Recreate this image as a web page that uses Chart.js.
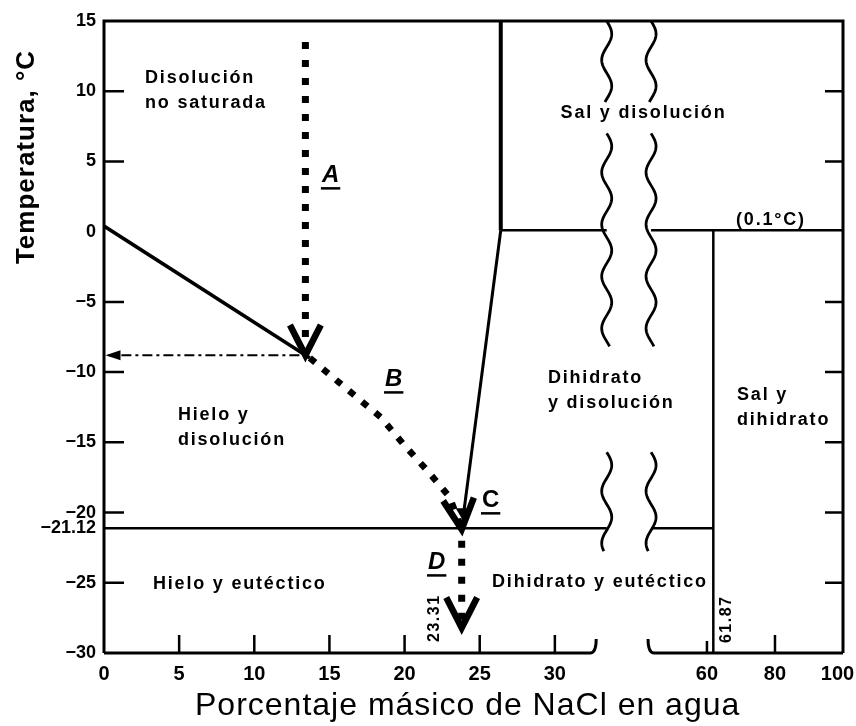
<!DOCTYPE html>
<html>
<head>
<meta charset="utf-8">
<script src="https://cdn.jsdelivr.net/npm/chart.js@4.4.1/dist/chart.umd.min.js"></script>
<style>
  html, body { margin: 0; padding: 0; background: #fff; }
  #wrap { width: 856px; height: 726px; }
</style>
</head>
<body>
<div id="wrap"><canvas id="chart"></canvas></div>
<script>
// tick labels
const xTickValues = [0, 5, 10, 15, 20, 25, 30, 60, 80, 100];
const yTickValues = [15, 10, 5, 0, -5, -10, -15, -20, -21.12, -25, -30];

// phase boundaries (x = % NaCl, y = °C)
const iceLiquidusX = [0, 13.7];
const iceLiquidusY = [0.4, -9.0];
const dihydrateLiquidusX = [23.8, 26.4];
const dihydrateLiquidusY = [-21.12, 0.1];
const saltLiquidusX = [26.4, 26.4];
const saltLiquidusY = [0.1, 15];
const eutecticT = -21.12;
const eutecticFromTo = [0, 61.87];
const peritecticT = 0.1;
const peritecticFromTo = [26.4, 100];
const saltDihydrateX = [61.87, 61.87];
const saltDihydrateY = [-30, 0.1];

// cooling paths
const pathAX = [13.4, 13.4];
const pathAY = [13.5, -8.8];
const pathBX = [13.7, 15.6, 18.4, 19.9, 21.5, 23.0, 23.8];
const pathBY = [-9.0, -10.7, -13.2, -15.1, -17.0, -18.9, -21.2];
const pathDX = [23.8, 23.8];
const pathDY = [-22.0, -28.2];
const readoutX = [13.0, 0.3];
const readoutY = [-8.8, -8.8];

// broken x axis: 0-30 linear, then 60-100 compressed
const U60 = 40.12;
const RIGHT_SCALE = 0.2263;
const toU = x => (x <= 30 ? x : U60 + (x - 60) * RIGHT_SCALE);
const U_MAX = toU(100);
const BREAK_L = 33.45;
const BREAK_R = 36.4;
const AXIS_HOOK_L = 32.75;
const AXIS_HOOK_R = 36.2;

const FONT = "'Liberation Sans', Arial, sans-serif";

const pts = (xs, ys) => xs.map((x, i) => ({ x: toU(x), y: ys[i] }));
const brokenSpan = (x0, x1, y) => [
  { x: toU(x0), y }, { x: BREAK_L, y },
  { x: (BREAK_L + BREAK_R) / 2, y: null },
  { x: BREAK_R, y }, { x: toU(x1), y }
];

const line = (data, width, extra = {}) => Object.assign({
  data, showLine: true, borderColor: "#000", borderWidth: width,
  pointRadius: 0, fill: false, tension: 0, spanGaps: false, borderCapStyle: "butt"
}, extra);

const datasets = [
  line(pts(iceLiquidusX, iceLiquidusY), 3.5),
  line(pts(dihydrateLiquidusX, dihydrateLiquidusY), 3),
  line(pts(saltLiquidusX, saltLiquidusY), 4),
  line(brokenSpan(eutecticFromTo[0], eutecticFromTo[1], eutecticT), 2.5),
  line(brokenSpan(peritecticFromTo[0], peritecticFromTo[1], peritecticT), 2.5),
  line(pts(saltDihydrateX, saltDihydrateY), 2.5),
  line(pts(pathAX, pathAY), 7, { borderDash: [7, 11] }),
  line(pts(pathBX, pathBY), 6.5, { borderDash: [7, 10] }),
  line(pts(pathDX, pathDY), 7, { borderDash: [7, 11] }),
  line(pts(readoutX, readoutY), 2, { borderDash: [10, 4, 3, 4] })
];

const labels = [
  { t: "Disolución", u: 2.73, v: 10.94 },
  { t: "no saturada", u: 2.73, v: 9.16 },
  { t: "Sal y disolución", u: 35.9, v: 8.45, align: "center" },
  { t: "(0.1°C)", u: 44.38, v: 0.83, align: "center" },
  { t: "Hielo y", u: 4.92, v: -13.06 },
  { t: "disolución", u: 4.92, v: -14.84 },
  { t: "Dihidrato", u: 29.54, v: -10.43 },
  { t: "y disolución", u: 29.54, v: -12.2 },
  { t: "Sal y", u: 42.12, v: -11.64 },
  { t: "dihidrato", u: 42.12, v: -13.42 },
  { t: "Hielo y eutéctico", u: 3.26, v: -25.1 },
  { t: "Dihidrato y eutéctico", u: 25.82, v: -24.96 }
];
const letters = [
  { t: "A", u: 14.5, v: 4.17, italic: true },
  { t: "B", u: 18.7, v: -10.36, italic: true },
  { t: "C", u: 25.15, v: -18.97, italic: false },
  { t: "D", u: 21.56, v: -23.39, italic: true }
];
const rotated = [
  { t: "23.31", u: 22.0, v: -27.52 },
  { t: "61.87", u: 41.45, v: -27.6 }
];

const fmt = v => (v < 0 ? "\u2212" + Math.abs(v) : String(v));

function chevron(ctx, x, y, angleDeg) {
  const a = angleDeg * Math.PI / 180;
  const len = 34, spread = 27 * Math.PI / 180;
  ctx.save();
  ctx.lineWidth = 6.5;
  ctx.lineJoin = "miter";
  ctx.lineCap = "butt";
  ctx.beginPath();
  ctx.moveTo(x - len * Math.cos(a - spread), y - len * Math.sin(a - spread));
  ctx.lineTo(x, y);
  ctx.lineTo(x - len * Math.cos(a + spread), y - len * Math.sin(a + spread));
  ctx.stroke();
  ctx.restore();
}

function wave(ctx, x, y0, y1) {
  ctx.beginPath();
  for (let y = y0; y <= y1; y += 1) {
    const dx = 5 * Math.sin((y - y0) / 52 * 2 * Math.PI);
    if (y === y0) ctx.moveTo(x + dx, y); else ctx.lineTo(x + dx, y);
  }
  ctx.stroke();
}

const decor = {
  id: "decor",
  afterDatasetsDraw(chart) {
    const ctx = chart.ctx;
    const X = u => chart.scales.x.getPixelForValue(u);
    const Y = v => chart.scales.y.getPixelForValue(v);
    const { left: L, right: R, top: T, bottom: B } = chart.chartArea;
    ctx.save();
    ctx.strokeStyle = "#000";
    ctx.fillStyle = "#000";

    // frame
    ctx.lineWidth = 3;
    ctx.beginPath();
    ctx.moveTo(L, B); ctx.lineTo(L, T); ctx.lineTo(R, T); ctx.lineTo(R, B);
    ctx.stroke();
    const hl = X(AXIS_HOOK_L), hr = X(AXIS_HOOK_R);
    ctx.beginPath();
    ctx.moveTo(L, B); ctx.lineTo(hl - 6, B);
    ctx.quadraticCurveTo(hl, B, hl, B - 14);
    ctx.moveTo(hr, B - 14);
    ctx.quadraticCurveTo(hr, B, hr + 6, B);
    ctx.lineTo(R, B);
    ctx.stroke();

    // inward ticks
    ctx.lineWidth = 2.5;
    ctx.beginPath();
    [10, 5, -5, -10, -15, -20, -25].forEach(v => {
      ctx.moveTo(L, Y(v)); ctx.lineTo(L + 20, Y(v));
      ctx.moveTo(R, Y(v)); ctx.lineTo(R - 18, Y(v));
    });
    [5, 10, 15, 20, 25, 30, 80].forEach(x => {
      ctx.moveTo(X(toU(x)), B); ctx.lineTo(X(toU(x)), B - 18);
    });
    ctx.moveTo(X(toU(60)), B); ctx.lineTo(X(toU(60)), B - 12);
    ctx.stroke();

    // axis break waves
    ctx.lineWidth = 2.8;
    [[15, 9.2], [7.0, -8.2], [-15.7, -22.8]].forEach(([a, b]) => {
      wave(ctx, X(BREAK_L), Y(a), Y(b));
      wave(ctx, X(BREAK_R), Y(a), Y(b));
    });

    // arrowheads
    const lastA = pts(pathAX, pathAY).pop();
    const lastB = pts(pathBX, pathBY).pop();
    const lastD = pts(pathDX, pathDY).pop();
    chevron(ctx, X(lastA.x), Y(lastA.y), 90);
    chevron(ctx, X(lastB.x), Y(lastB.y), 84);
    chevron(ctx, X(lastD.x), Y(lastD.y), 90);
    const r = pts(readoutX, readoutY).pop();
    ctx.beginPath();
    ctx.moveTo(X(r.x) - 3, Y(r.y));
    ctx.lineTo(X(r.x) + 12, Y(r.y) - 5);
    ctx.lineTo(X(r.x) + 12, Y(r.y) + 5);
    ctx.closePath();
    ctx.fill();
    const e = pts(dihydrateLiquidusX, dihydrateLiquidusY)[0];
    ctx.beginPath();
    ctx.moveTo(X(e.x), Y(e.y) - 10);
    ctx.lineTo(X(e.x) - 6, Y(e.y) - 20);
    ctx.lineTo(X(e.x) + 6, Y(e.y) - 20);
    ctx.closePath();
    ctx.fill();

    // region labels
    ctx.font = "bold 18px " + FONT;
    ctx.letterSpacing = "1.8px";
    ctx.textBaseline = "middle";
    labels.forEach(l => {
      ctx.textAlign = l.align || "left";
      ctx.fillText(l.t, X(l.u), Y(l.v));
    });

    // path letters
    ctx.letterSpacing = "0px";
    ctx.textAlign = "left";
    ctx.textBaseline = "alphabetic";
    letters.forEach(l => {
      ctx.font = (l.italic ? "italic " : "") + "bold 24px " + FONT;
      const x = X(l.u), y = Y(l.v) + 9;
      const w = ctx.measureText(l.t).width;
      ctx.fillText(l.t, x, y);
      ctx.fillRect(x - 1, y + 5, w + 2, 2.5);
    });

    // composition markers
    ctx.font = "bold 16px " + FONT;
    ctx.letterSpacing = "1.5px";
    ctx.textAlign = "center";
    ctx.textBaseline = "middle";
    rotated.forEach(l => {
      ctx.save();
      ctx.translate(X(l.u), Y(l.v));
      ctx.rotate(-Math.PI / 2);
      ctx.fillText(l.t, 0, 0);
      ctx.restore();
    });

    // axis titles
    ctx.letterSpacing = "1px";
    ctx.font = "32px " + FONT;
    ctx.textAlign = "left";
    ctx.textBaseline = "alphabetic";
    ctx.fillText("Porcentaje másico de NaCl en agua", 195, 715);
    ctx.save();
    ctx.translate(27, 157);
    ctx.rotate(-Math.PI / 2);
    ctx.font = "bold 26px " + FONT;
    ctx.textAlign = "center";
    ctx.textBaseline = "middle";
    ctx.fillText("Temperatura, °C", 0, 0);
    ctx.restore();

    ctx.restore();
  }
};

new Chart(document.getElementById("chart"), {
  type: "scatter",
  data: { datasets },
  options: {
    responsive: true,
    maintainAspectRatio: false,
    animation: false,
    devicePixelRatio: 1,
    layout: { padding: { top: 21, right: 13, left: 0, bottom: 0 } },
    plugins: { legend: { display: false }, tooltip: { enabled: false } },
    scales: {
      x: {
        type: "linear",
        min: 0,
        max: U_MAX,
        grid: { display: false, drawTicks: false },
        border: { display: false },
        afterBuildTicks: s => { s.ticks = xTickValues.map(v => ({ value: toU(v) })); },
        afterFit: s => { s.height = 73; s.paddingLeft = 0; s.paddingRight = 0; },
        ticks: {
          autoSkip: false, maxRotation: 0, padding: 9, color: "#000",
          font: { family: FONT, size: 20, weight: "bold" },
          // last label padded so it stays inside the canvas
          callback: (v, i) => String(xTickValues[i]) + (i === xTickValues.length - 1 ? "\u2007" : "")
        }
      },
      y: {
        type: "linear",
        min: -30,
        max: 15,
        grid: { display: false, drawTicks: false },
        border: { display: false },
        afterBuildTicks: s => { s.ticks = yTickValues.map(v => ({ value: v })); },
        afterFit: s => { s.width = 104; s.paddingTop = 0; s.paddingBottom = 0; },
        ticks: {
          autoSkip: false, padding: 8, color: "#000",
          font: { family: FONT, size: 18, weight: "bold" },
          callback: (v, i) => fmt(yTickValues[i])
        }
      }
    }
  },
  plugins: [decor]
});
</script>
</body>
</html>
